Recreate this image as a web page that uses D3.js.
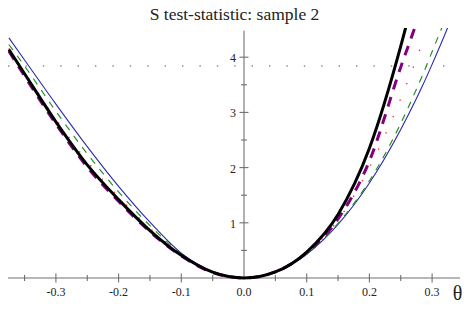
<!DOCTYPE html>
<html>
<head>
<meta charset="utf-8">
<script src="https://cdn.jsdelivr.net/npm/d3@7"></script>
<style>
  html, body { margin: 0; padding: 0; background: #fff; }
  svg { display: block; }
</style>
</head>
<body>
<svg id="chart" width="469" height="312"></svg>
<script>
// ---- data ----
const titleText = "S test-statistic: sample 2";
const theta   = [-0.375, -0.35, -0.3, -0.25, -0.2, -0.15, -0.1, -0.05, 0, 0.05, 0.1, 0.15, 0.2, 0.25, 0.275, 0.285, 0.3, 0.325, 0.35];
const sBlack  = [4.14, 3.70, 2.83, 2.05, 1.42, 0.86, 0.41, 0.105, 0, 0.11, 0.47, 1.15, 2.35, 4.20, 5.30, null, null, null, null];
const sPurple = [4.11, 3.66, 2.79, 2.01, 1.39, 0.84, 0.40, 0.10, 0, 0.11, 0.46, 1.07, 2.12, 3.82, 4.62, 4.95, null, null, null];
const sRed    = [4.16, 3.73, 2.88, 2.11, 1.47, 0.90, 0.43, 0.11, 0, 0.11, 0.45, 1.05, 2.00, 3.25, 3.97, 4.28, null, null, null];
const sGreen  = [4.23, 3.84, 3.02, 2.25, 1.56, 0.95, 0.44, 0.11, 0, 0.11, 0.44, 0.99, 1.76, 2.80, 3.42, 3.68, 4.10, 4.80, null];
const sBlue   = [4.35, 3.95, 3.15, 2.38, 1.66, 1.01, 0.45, 0.115, 0, 0.108, 0.43, 0.97, 1.72, 2.69, 3.25, 3.49, 3.87, 4.54, 5.27];
const xMajorTicks = [-0.3, -0.2, -0.1, 0, 0.1, 0.2, 0.3];
const xMinorTicks = [-0.35, -0.25, -0.15, -0.05, 0.05, 0.15, 0.25];
const yMajorTicks = [1, 2, 3, 4];
const yMinorTicks = [0.5, 1.5, 2.5, 3.5];
const criticalValue = 3.84;
const xLabelText = "θ";

// ---- scales ----
const svg = d3.select("#chart");
const x = d3.scaleLinear().domain([-0.3764, 0.3445]).range([8, 460]);
const y = d3.scaleLinear().domain([0, 4.48]).range([278, 30.7]);

const axisColor = "#707070";
const serif = "Liberation Serif";

// title
svg.append("text")
  .attr("x", 234.5).attr("y", 19.5)
  .attr("text-anchor", "middle")
  .style("font-family", serif).style("font-size", "17.5px").style("fill", "#222")
  .text(titleText);

// dotted critical line
svg.append("line")
  .attr("x1", x.range()[0]).attr("x2", x.range()[1])
  .attr("y1", y(criticalValue)).attr("y2", y(criticalValue))
  .attr("stroke", "#8a8a8a").attr("stroke-width", 1.4)
  .attr("stroke-dasharray", "1.4,16");

// x axis
const xAxis = svg.append("g").attr("transform", `translate(0,${y(0)})`);
xAxis.append("line").attr("x1", x.range()[0]).attr("x2", x.range()[1])
  .attr("stroke", axisColor).attr("stroke-width", 1.1);
xAxis.selectAll("line.maj").data(xMajorTicks.filter(d => d !== 0)).join("line")
  .attr("class", "maj")
  .attr("x1", d => x(d)).attr("x2", d => x(d)).attr("y1", -4.5).attr("y2", 4.5)
  .attr("stroke", axisColor).attr("stroke-width", 1.1);
xAxis.selectAll("line.min").data(xMinorTicks).join("line")
  .attr("class", "min")
  .attr("x1", d => x(d)).attr("x2", d => x(d)).attr("y1", -3).attr("y2", 3)
  .attr("stroke", axisColor).attr("stroke-width", 1.1);
xAxis.selectAll("text").data(xMajorTicks).join("text")
  .attr("x", d => x(d)).attr("y", 18)
  .attr("text-anchor", "middle")
  .style("font-family", serif).style("font-size", "12px").style("fill", "#222")
  .text(d => d3.format(".1f")(d).replace("−", "-"));

svg.append("text")
  .attr("x", 457.5).attr("y", 300)
  .attr("text-anchor", "middle")
  .style("font-family", serif).style("font-size", "20px").style("fill", "#222")
  .text(xLabelText);

// y axis
const yAxis = svg.append("g").attr("transform", `translate(${x(0)},0)`);
yAxis.append("line").attr("y1", y(0)).attr("y2", y.range()[1])
  .attr("stroke", axisColor).attr("stroke-width", 1.1);
yAxis.selectAll("line.maj").data(yMajorTicks).join("line")
  .attr("class", "maj")
  .attr("y1", d => y(d)).attr("y2", d => y(d)).attr("x1", -4.5).attr("x2", 4.5)
  .attr("stroke", axisColor).attr("stroke-width", 1.1);
yAxis.selectAll("line.min").data(yMinorTicks).join("line")
  .attr("class", "min")
  .attr("y1", d => y(d)).attr("y2", d => y(d)).attr("x1", -3).attr("x2", 3)
  .attr("stroke", axisColor).attr("stroke-width", 1.1);
yAxis.selectAll("text").data(yMajorTicks).join("text")
  .attr("x", -8).attr("y", d => y(d) + 5)
  .attr("text-anchor", "end")
  .style("font-family", serif).style("font-size", "12px").style("fill", "#222")
  .text(d => d);

// clip for curves
svg.append("defs").append("clipPath").attr("id", "plotclip")
  .append("rect").attr("x", x.range()[0]).attr("y", 28)
  .attr("width", x.range()[1] - x.range()[0] + 2).attr("height", 260);

const series = [
  { values: sBlue,   color: "#2a2aa8", width: 1.1, dash: null },
  { values: sGreen,  color: "#2a8f2a", width: 1.2, dash: "7,7" },
  { values: sRed,    color: "#ff2020", width: 1.3, dash: "1.3,16.5" },
  { values: sPurple, color: "#800080", width: 3,   dash: "10,8" },
  { values: sBlack,  color: "#000000", width: 3,   dash: null }
];

const line = d3.line()
  .defined(d => d[1] !== null)
  .x(d => x(d[0])).y(d => y(d[1]))
  .curve(d3.curveMonotoneX);

const curves = svg.append("g").attr("clip-path", "url(#plotclip)");
series.forEach(s => {
  const pts = theta.map((t, i) => [t, s.values[i]]).filter(d => d[1] !== null);
  curves.append("path")
    .attr("d", line(pts))
    .attr("fill", "none")
    .attr("stroke", s.color)
    .attr("stroke-width", s.width)
    .attr("stroke-dasharray", s.dash)
    .attr("stroke-linejoin", "round");
});
</script>
</body>
</html>
